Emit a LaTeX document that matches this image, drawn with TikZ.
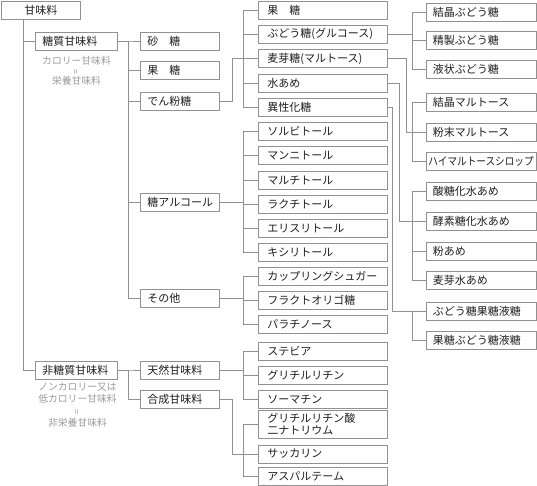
\documentclass[tikz,border=0pt]{standalone}
\usepackage{fontspec}
\usepackage{graphicx}
\newfontfamily\jp{Noto Sans CJK JP}
\definecolor{lc}{RGB}{145,145,145}
\definecolor{ac}{RGB}{155,155,155}
\newcommand{\vereq}{\rotatebox{90}{\fontsize{9}{9}\selectfont =}}
\begin{document}
\begin{tikzpicture}[x=1pt,y=-1pt,
  box/.style={draw=lc, line width=0.9pt, fill=white, inner ysep=0pt, minimum height=18pt, anchor=west, font=\jp\fontsize{11}{12}\selectfont, text=black!88, align=left},
  c0/.style={box, inner xsep=7pt, text width=65pt, align=center},
  c1/.style={box, inner xsep=7pt, text width=68pt},
  c2/.style={box, inner xsep=7pt, text width=65pt},
  c3/.style={box, inner xsep=9pt, text width=111pt},
  c4/.style={box, inner xsep=6.5pt, text width=97pt},
  ln/.style={draw=lc, line width=0.9pt},
  ann/.style={text=ac, align=center, inner sep=0pt}
]
\useasboundingbox (0,0) rectangle (537,486);
\fill[white] (0,0) rectangle (537,486);

% bus coordinates
\coordinate (b0) at (23,0);
\coordinate (b1) at (128,0);
\coordinate (b2) at (243,0);
\coordinate (j2) at (232,0);
\coordinate (b3) at (412.5,0);
\coordinate (m1) at (406,0);
\coordinate (m2) at (399,0);
\coordinate (m3) at (392.5,0);

% column 0 and 1
\node[c0] (root) at (1,10) {甘味料};
\node[c1] (tou) at (35,41) {糖質甘味料};
\node[c1] (hitou) at (35,370) {非糖質甘味料};
\node[ann, font=\jp\fontsize{9.8}{10}\selectfont] (tann) at (76.5,71) {カロリー甘味料\\\vereq\\栄養甘味料};
\node[ann, font=\jp\fontsize{9.8}{11.8}\selectfont] (hann) at (77.5,405) {ノンカロリー又は\\低カロリー甘味料\\\vereq\\非栄養甘味料};

% column 2
\node[c2] (satou) at (140,41) {砂　糖};
\node[c2] (kato) at (140,70) {果　糖};
\node[c2] (den) at (140,101.5) {でん粉糖};
\node[c2] (alc) at (140,202.5) {糖アルコール};
\node[c2] (other) at (140,298) {その他};
\node[c2] (tennen) at (140,370) {天然甘味料};
\node[c2] (gousei) at (140,399.5) {合成甘味料};

% column 3
\node[c3] (kato2) at (258,10) {果　糖};
\node[c3] (budou) at (258,34) {ぶどう糖(グルコース)};
\node[c3] (bakuga) at (258,58.5) {麦芽糖(マルトース)};
\node[c3] (mizuame) at (258,83) {水あめ};
\node[c3] (isei) at (258,107.5) {異性化糖};
\node[c3] (sorb) at (258,131.5) {ソルビトール};
\node[c3] (mann) at (258,155.5) {マンニトール};
\node[c3] (malt) at (258,180) {マルチトール};
\node[c3] (lact) at (258,204) {ラクチトール};
\node[c3] (eryth) at (258,228) {エリスリトール};
\node[c3] (xyl) at (258,252) {キシリトール};
\node[c3] (coup) at (258,276) {カップリングシュガー};
\node[c3] (fruc) at (258,300) {フラクトオリゴ糖};
\node[c3] (pala) at (258,324) {パラチノース};
\node[c3] (stev) at (258,351.5) {ステビア};
\node[c3] (glyc) at (258,375.5) {グリチルリチン};
\node[c3] (thau) at (258,399.5) {ソーマチン};
\node[c3, minimum height=28pt] (glycna) at (258,424) {グリチルリチン酸\\二ナトリウム};
\node[c3] (sacc) at (258,454) {サッカリン};
\node[c3] (asp) at (258,476.5) {アスパルテーム};

% column 4
\node[c4] (kesshoB) at (426,12) {結晶ぶどう糖};
\node[c4] (seisei) at (426,40) {精製ぶどう糖};
\node[c4] (ekijo) at (426,69) {液状ぶどう糖};
\node[c4] (kesshoM) at (426,102) {結晶マルトース};
\node[c4] (funmatsu) at (426,132) {粉末マルトース};
\node[c4, inner xsep=2pt, text width=106pt] (himaru) at (426,161) {\scalebox{0.875}[1]{ハイマルトースシロップ}};
\node[c4] (san) at (426,191.5) {酸糖化水あめ};
\node[c4] (koso) at (426,221) {酵素糖化水あめ};
\node[c4] (kona) at (426,251) {粉あめ};
\node[c4] (bakugaM) at (426,280) {麦芽水あめ};
\node[c4] (budoueki) at (426,311) {ぶどう糖果糖液糖};
\node[c4] (katoeki) at (426,340) {果糖ぶどう糖液糖};

% connectors: root
\draw[ln] (root.south -| b0) |- (hitou.west);
\draw[ln] (b0 |- tou.west) -- (tou.west);

% column 1 -> 2
\foreach \c in {satou,kato,den,alc,other}
  \draw[ln] (tou.east) -| (b1 |- \c.west) -- (\c.west);
\foreach \c in {tennen,gousei}
  \draw[ln] (hitou.east) -| (b1 |- \c.west) -- (\c.west);

% column 2 -> 3
\draw[ln] (den.east) -| (j2 |- bakuga.west) -- (b2 |- bakuga.west);
\foreach \c in {kato2,budou,bakuga,mizuame,isei}
  \draw[ln] (b2 |- bakuga.west) |- (\c.west);
\foreach \c in {sorb,mann,malt,lact,eryth,xyl}
  \draw[ln] (alc.east) -| (b2 |- \c.west) -- (\c.west);
\foreach \c in {coup,fruc,pala}
  \draw[ln] (other.east) -| (b2 |- \c.west) -- (\c.west);
\foreach \c in {stev,glyc,thau}
  \draw[ln] (tennen.east) -| (b2 |- \c.west) -- (\c.west);
\draw[ln] (gousei.east) -| (j2 |- sacc.west) -- (b2 |- sacc.west);
\foreach \c in {glycna,sacc,asp}
  \draw[ln] (b2 |- sacc.west) |- (\c.west);

% column 3 -> 4
\foreach \c in {kesshoB,seisei,ekijo}
  \draw[ln] (budou.east) -| (b3 |- \c.west) -- (\c.west);
\draw[ln] (bakuga.east) -| (m1 |- funmatsu.west) -- (b3 |- funmatsu.west);
\foreach \c in {kesshoM,funmatsu,himaru}
  \draw[ln] (b3 |- funmatsu.west) |- (\c.west);
\draw[ln] (mizuame.east) -| (m2 |- koso.west) -- (b3 |- koso.west);
\foreach \c in {san,koso,kona,bakugaM}
  \draw[ln] (b3 |- koso.west) |- (\c.west);
\draw[ln] (isei.east) -| (m3 |- budoueki.west) -- (b3 |- budoueki.west);
\foreach \c in {budoueki,katoeki}
  \draw[ln] (b3 |- budoueki.west) |- (\c.west);
\end{tikzpicture}
\end{document}
